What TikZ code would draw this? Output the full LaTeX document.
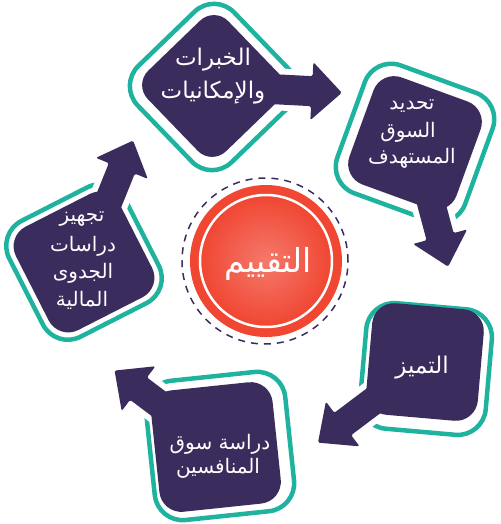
\documentclass[tikz,border=0pt]{standalone}
\usepackage{fontspec}
\newfontfamily\arabicfont[Script=Arabic]{DejaVu Sans}
\TeXXeTstate=1
\definecolor{pp}{HTML}{3A2C5C}
\definecolor{tl}{HTML}{1FB39F}
\definecolor{rd}{HTML}{F04632}
\definecolor{rdl}{HTML}{F5796B}
\tikzset{
  tealbox/.style={draw=tl, line width=4.5pt},
  purplebox/.style={fill=pp},
  arrowbody/.style={fill=pp, rounded corners=1.5pt, preaction={draw=white, line width=12pt, line join=round}},
  lbl/.style={text=white, inner sep=0pt, font=\arabicfont\fontsize{20}{24}\selectfont},
}
\begin{document}
\begin{tikzpicture}[x=1pt,y=-1pt]
\useasboundingbox (0,0) rectangle (500,524);
% ---------- teal outlines ----------
\begin{scope}[shift={(213,87)}, rotate=44]
  \draw[tealbox, rounded corners=28pt] (-67,-67) rectangle (67,67);
\end{scope}
\begin{scope}[shift={(415,143)}, rotate=-20]
  \draw[tealbox, rounded corners=28pt] (-68,-68) rectangle (68,68);
\end{scope}
\begin{scope}[shift={(426,369)}, rotate=-5]
  \draw[tealbox, rounded corners=28pt] (-63,-63) rectangle (63,63);
\end{scope}
\begin{scope}[shift={(220,446)}, rotate=6]
  \draw[tealbox, rounded corners=28pt] (-70,-70) rectangle (70,70);
\end{scope}
\begin{scope}[shift={(84,262)}, rotate=27]
  \draw[tealbox, rounded corners=28pt] (-65,-65) rectangle (65,65);
\end{scope}
% ---------- arrows ----------
\begin{scope}[shift={(213,86)}, rotate=-3]
  \path[arrowbody] (0,-15) -- (99,-15) -- (99,-29) -- (129,0) -- (99,29) -- (99,15) -- (0,15) -- cycle;
\end{scope}
\begin{scope}[shift={(415,143)}, rotate=-75]
  \path[arrowbody] (0,-14) -- (97,-14) -- (97,-28) -- (128,0) -- (97,28) -- (97,14) -- (0,14) -- cycle;
\end{scope}
\begin{scope}[shift={(425,362)}, rotate=-143]
  \path[arrowbody] (0,-14) -- (103,-14) -- (103,-28) -- (134,0) -- (103,28) -- (103,14) -- (0,14) -- cycle;
\end{scope}
\begin{scope}[shift={(216,447)}, rotate=143]
  \path[arrowbody] (0,-14) -- (97,-14) -- (97,-28) -- (127,0) -- (97,28) -- (97,14) -- (0,14) -- cycle;
\end{scope}
\begin{scope}[shift={(84,262)}, rotate=68]
  \path[arrowbody] (0,-14) -- (101,-14) -- (101,-28) -- (131,0) -- (101,28) -- (101,14) -- (0,14) -- cycle;
\end{scope}
% ---------- purple boxes ----------
\begin{scope}[shift={(213,86)}, rotate=44]
  \fill[purplebox, rounded corners=20pt] (-56,-56) rectangle (56,56);
\end{scope}
\begin{scope}[shift={(415,143)}, rotate=-20]
  \fill[purplebox, rounded corners=22pt] (-57,-57) rectangle (57,57);
\end{scope}
\begin{scope}[shift={(425,362)}, rotate=-5]
  \fill[purplebox, rounded corners=22pt] (-56,-56) rectangle (56,56);
\end{scope}
\begin{scope}[shift={(216,447)}, rotate=6]
  \fill[purplebox, rounded corners=22pt] (-61,-61) rectangle (61,61);
\end{scope}
\begin{scope}[shift={(84,262)}, rotate=27]
  \fill[purplebox, rounded corners=22pt] (-58,-58) rectangle (58,58);
\end{scope}
% ---------- labels ----------
\node[lbl, font=\arabicfont\fontsize{23}{26}\selectfont] (t1a) at (213,60) {\beginR الخبرات\endR};
\node[lbl, font=\arabicfont\fontsize{23}{26}\selectfont] (t1b) at (213,93) {\beginR والإمكانيات\endR};
\node[lbl] (t2a) at (412,106) {\beginR تحديد\endR};
\node[lbl] (t2b) at (408,132) {\beginR السوق\endR};
\node[lbl] (t2c) at (412,158) {\beginR المستهدف\endR};
\node[lbl, font=\arabicfont\fontsize{23}{26}\selectfont] (t3a) at (422,368) {\beginR التميز\endR};
\node[lbl] (t4a) at (220,444) {\beginR دراسة سوق\endR};
\node[lbl] (t4b) at (218,468) {\beginR المنافسين\endR};
\node[lbl] (t5a) at (82,219) {\beginR تجهيز\endR};
\node[lbl] (t5b) at (83,246) {\beginR دراسات\endR};
\node[lbl] (t5c) at (83,273) {\beginR الجدوى\endR};
\node[lbl] (t5d) at (82,300) {\beginR المالية\endR};
% ---------- centre ----------
\draw[pp, line width=1.5pt, dash pattern=on 7pt off 6pt] (265,261) circle (83pt);
\fill[rd] (266,261) circle (76pt);
\shade[inner color=rdl, outer color=rd] (266,261) circle (66pt);
\draw[white, line width=2.5pt] (266,261) circle (66pt);
\node[lbl, font=\arabicfont\fontsize{33}{38}\selectfont] (ctr) at (268,264) {\beginR التقييم\endR};
\end{tikzpicture}
\end{document}
